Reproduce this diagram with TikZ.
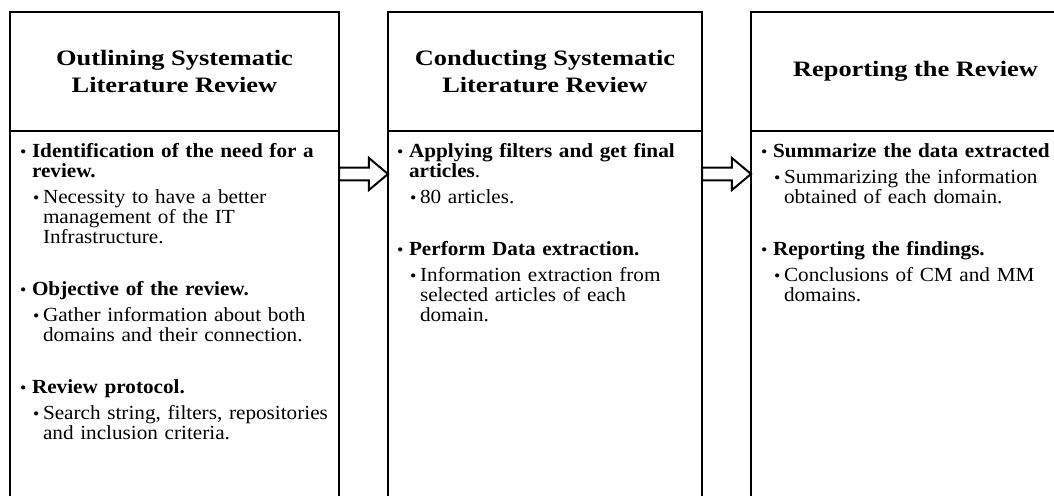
\documentclass[tikz,border=0pt]{standalone}
\usepackage{fontspec}
\setmainfont{Liberation Serif}[FakeStretch=1.06]
\newfontfamily\headfont{Liberation Serif}[FakeStretch=1.2]
\usetikzlibrary{positioning,shapes.arrows}

% list entries of the review steps
\newcommand{\bul}{{\fontsize{8.5pt}{8.5pt}\selectfont\textbullet}}
\newcommand{\mainpt}[1]{\noindent\hangindent=6pt\hangafter=1\makebox[6pt][l]{\bul}\textbf{#1}\par}
\newcommand{\subpt}[1]{\vspace{3pt}\noindent\hangindent=11.5pt\hangafter=1\hspace*{6.5pt}\makebox[5pt][l]{\bul}#1\par}
\newcommand{\gappt}{\vspace{16pt}}

\begin{document}
\begin{tikzpicture}[x=0.5pt, y=-0.5pt,
	headbox/.style={rectangle, draw=black, line width=1.2pt, inner sep=0pt, outer sep=0pt, align=center, minimum height=59.5pt, font=\headfont\bfseries\fontsize{11pt}{13.5pt}\selectfont},
	bodybox/.style={rectangle, draw=black, line width=1.2pt, inner sep=0pt, outer sep=0pt, minimum height=200pt},
	listtext/.style={anchor=base west, inner sep=0pt, outer sep=0pt, text width=160pt, align=left, font=\fontsize{10pt}{10pt}\selectfont},
	flowarrow/.style={single arrow, draw=black, line width=1pt, anchor=tail, outer sep=0pt, inner xsep=0pt, inner ysep=2.7pt, minimum height=24.5pt, single arrow head extend=4.8pt, single arrow tip angle=80, single arrow head indent=0pt}]

	\path[use as bounding box, clip] (0,0) rectangle (1054,495);

	% the three steps
	\node (outhead) [headbox, minimum width=164.5pt, anchor=north west] at (10,12) {Outlining Systematic\\Literature Review};
	\node (outbody) [bodybox, minimum width=164.5pt, below=0pt of outhead] {};
	\node (conhead) [headbox, minimum width=157pt, right=24.5pt of outhead] {Conducting Systematic\\Literature Review};
	\node (conbody) [bodybox, minimum width=157pt, below=0pt of conhead] {};
	\node (rephead) [headbox, minimum width=164.5pt, right=24.5pt of conhead] {Reporting the Review};
	\node (repbody) [bodybox, minimum width=164.5pt, below=0pt of rephead] {};

	% contents
	\node (outlist) [listtext] at ([shift={(10,26)}]outbody.north west) {%
		\mainpt{Identification of the need for a\newline review.}%
		\subpt{Necessity to have a better\newline management of the IT\newline Infrastructure.}%
		\gappt
		\mainpt{Objective of the review.}%
		\subpt{Gather information about both\newline domains and their connection.}%
		\gappt
		\mainpt{Review protocol.}%
		\subpt{Search string, filters, repositories\newline and inclusion criteria.}%
	};
	\node (conlist) [listtext] at ([shift={(9,26)}]conbody.north west) {%
		\mainpt{Applying filters and get final\newline articles\mdseries.}%
		\subpt{80 articles.}%
		\gappt
		\mainpt{Perform Data extraction.}%
		\subpt{Information extraction from\newline selected articles of each\newline domain.}%
	};
	\node (replist) [listtext] at ([shift={(10,26)}]repbody.north west) {%
		\mainpt{Summarize the data extracted}%
		\subpt{Summarizing the information\newline obtained of each domain.}%
		\gappt
		\mainpt{Reporting the findings.}%
		\subpt{Conclusions of CM and MM\newline domains.}%
	};

	% arrows between the steps
	\node (arrowa) [flowarrow] at (outbody.east |- 0,174) {};
	\node (arrowb) [flowarrow] at (conbody.east |- 0,174) {};

\end{tikzpicture}
\end{document}
